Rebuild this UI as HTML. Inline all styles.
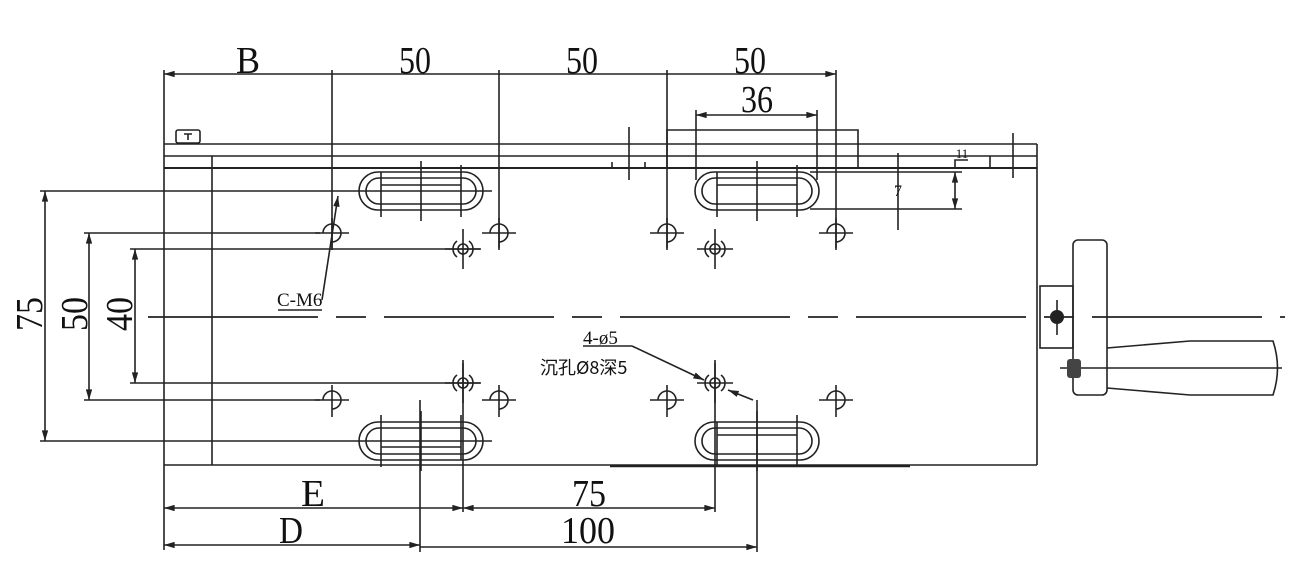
<!DOCTYPE html>
<html><head><meta charset="utf-8"><style>html,body{margin:0;padding:0;background:#fff;}svg{display:block}</style></head>
<body>
<svg width="1298" height="579" viewBox="0 0 1298 579" xmlns="http://www.w3.org/2000/svg">
<defs>
<marker id="a" viewBox="0 0 10 6" refX="10" refY="3" markerWidth="10" markerHeight="4" orient="auto-start-reverse"><path d="M0,0L10,3L0,6z" fill="#222"/></marker>
<g id="hole" stroke="#222" stroke-width="1.6" fill="none">
<path d="M-9,0 A9,9 0 1,1 0,9"/><line x1="-17" y1="0" x2="17" y2="0"/><line x1="0" y1="-15" x2="0" y2="17"/>
</g>
<g id="cb" stroke="#222" stroke-width="1.6" fill="none">
<circle r="5"/><path d="M-6,-8 A10,10 0 0,0 -6,8"/><path d="M6,-8 A10,10 0 0,1 6,8"/>
<line x1="-18" y1="0" x2="18" y2="0"/><line x1="0" y1="-20" x2="0" y2="20"/>
</g>
<g id="slot" stroke="#222" stroke-width="1.6" fill="none">
<rect x="-62" y="-19" width="124" height="38" rx="19"/>
<rect x="-55" y="-13" width="110" height="26" rx="13"/>
<line x1="-40" y1="-19" x2="-40" y2="26"/><line x1="40" y1="-26" x2="40" y2="26"/><line x1="0" y1="-30" x2="0" y2="30"/>
<line x1="-40" y1="-6" x2="40" y2="-6"/>
</g>
</defs>
<g stroke="#222" stroke-width="1.6" fill="none">
<!-- body -->
<line x1="164" y1="70" x2="164" y2="550"/>
<line x1="164" y1="144" x2="1037" y2="144"/>
<line x1="164" y1="156" x2="1037" y2="156"/>
<line x1="164" y1="168" x2="1037" y2="168" stroke-width="2"/>
<line x1="164" y1="465" x2="1037" y2="465"/>
<line x1="1037" y1="144" x2="1037" y2="465"/>
<line x1="212" y1="156" x2="212" y2="465"/>
<line x1="610" y1="466" x2="910" y2="466" stroke-width="2.5"/>
<rect x="176" y="130" width="24" height="13" rx="2"/>
<path d="M184,134 h8 M188,134 v6"/>
<!-- top dims -->
<line x1="164" y1="74" x2="836" y2="74" marker-start="url(#a)" marker-end="url(#a)"/>
<line x1="332" y1="70" x2="332" y2="248"/>
<line x1="499" y1="70" x2="499" y2="248"/>
<line x1="667" y1="70" x2="667" y2="248"/>
<line x1="836" y1="70" x2="836" y2="248"/>
<line x1="696" y1="115" x2="817" y2="115" marker-start="url(#a)" marker-end="url(#a)"/>
<line x1="696" y1="110" x2="696" y2="180"/>
<line x1="817" y1="110" x2="817" y2="180"/>
<path d="M667,168 V130 H858 V168"/>
<line x1="629" y1="127" x2="629" y2="180"/>
<line x1="1013" y1="133" x2="1013" y2="178"/>
<line x1="612" y1="162" x2="612" y2="168"/><line x1="645" y1="162" x2="645" y2="168"/>
<line x1="990" y1="156" x2="990" y2="168"/>
<path d="M955,168 V160 H968"/>
<!-- 7 dim -->
<line x1="810" y1="172" x2="962" y2="172"/>
<line x1="810" y1="209" x2="962" y2="209"/>
<line x1="955" y1="172" x2="955" y2="209" marker-start="url(#a)" marker-end="url(#a)"/>
<line x1="898" y1="153" x2="898" y2="230"/>
<!-- left dims -->
<line x1="40" y1="191" x2="492" y2="191"/>
<line x1="40" y1="441" x2="492" y2="441"/>
<line x1="45" y1="191" x2="45" y2="441" marker-start="url(#a)" marker-end="url(#a)"/>
<line x1="84" y1="233" x2="320" y2="233"/>
<line x1="84" y1="400" x2="320" y2="400"/>
<line x1="89" y1="233" x2="89" y2="400" marker-start="url(#a)" marker-end="url(#a)"/>
<line x1="130" y1="249" x2="480" y2="249"/>
<line x1="130" y1="383" x2="480" y2="383"/>
<line x1="135" y1="249" x2="135" y2="383" marker-start="url(#a)" marker-end="url(#a)"/>
<!-- centerline -->
<line x1="148" y1="317" x2="1285" y2="317" stroke-dasharray="170,18,30,18" stroke-width="1.8"/>
<!-- bottom dims -->
<line x1="420" y1="400" x2="420" y2="552"/>
<line x1="463" y1="360" x2="463" y2="512"/>
<line x1="715" y1="360" x2="715" y2="512"/>
<line x1="757" y1="400" x2="757" y2="552"/>
<line x1="164" y1="508" x2="463" y2="508" marker-start="url(#a)" marker-end="url(#a)"/>
<line x1="463" y1="508" x2="715" y2="508" marker-start="url(#a)" marker-end="url(#a)"/>
<line x1="164" y1="545" x2="420" y2="545" marker-start="url(#a)" marker-end="url(#a)"/>
<line x1="420" y1="547" x2="757" y2="547" marker-end="url(#a)"/>
<!-- leaders -->
<line x1="322" y1="300" x2="338" y2="196" marker-end="url(#a)"/>
<line x1="278" y1="310" x2="322" y2="310"/>
<line x1="583" y1="346" x2="632" y2="346"/>
<line x1="632" y1="346" x2="704" y2="380" marker-end="url(#a)"/>
<line x1="753" y1="400" x2="728" y2="390" marker-end="url(#a)"/>
<!-- handle -->
<rect x="1040" y="286" width="33" height="62"/>
<rect x="1073" y="240" width="34" height="155" rx="5"/>
<path d="M1107,348 L1190,341 H1273 Q1282,368 1273,395 H1190 L1107,388"/>
<line x1="1060" y1="368" x2="1282" y2="368"/>
<line x1="1057" y1="300" x2="1057" y2="335"/>
</g>
<circle cx="1057" cy="317" r="7" fill="#222"/>
<rect x="1067" y="359" width="14" height="19" rx="3" fill="#444"/>
<use href="#slot" x="421" y="191"/>
<use href="#slot" x="757" y="191"/>
<use href="#slot" x="421" y="441" transform="translate(842,882) scale(-1,-1)"/>
<use href="#slot" x="757" y="441"/>
<use href="#hole" x="332" y="233"/><use href="#hole" x="499" y="233"/><use href="#hole" x="667" y="233"/><use href="#hole" x="836" y="233"/>
<use href="#hole" x="332" y="400"/><use href="#hole" x="499" y="400"/><use href="#hole" x="667" y="400"/><use href="#hole" x="836" y="400"/>
<use href="#cb" x="463" y="249"/><use href="#cb" x="715" y="249"/><use href="#cb" x="463" y="383"/><use href="#cb" x="715" y="383"/>
<g font-family="Liberation Serif, serif" font-size="38" fill="#111" text-anchor="middle">
<text x="248" y="73" textLength="24" lengthAdjust="spacingAndGlyphs">B</text>
<text x="415" y="73" textLength="32" lengthAdjust="spacingAndGlyphs">50</text>
<text x="582" y="73" textLength="32" lengthAdjust="spacingAndGlyphs">50</text>
<text x="750" y="73" textLength="32" lengthAdjust="spacingAndGlyphs">50</text>
<text x="757" y="112" textLength="32" lengthAdjust="spacingAndGlyphs">36</text>
<text x="313" y="506" textLength="24" lengthAdjust="spacingAndGlyphs">E</text>
<text x="589" y="506" textLength="34" lengthAdjust="spacingAndGlyphs">75</text>
<text x="291" y="543" textLength="24" lengthAdjust="spacingAndGlyphs">D</text>
<text x="588" y="543" textLength="54" lengthAdjust="spacingAndGlyphs">100</text>
<text transform="translate(42,314) rotate(-90)" textLength="34" lengthAdjust="spacingAndGlyphs">75</text>
<text transform="translate(87,314) rotate(-90)" textLength="34" lengthAdjust="spacingAndGlyphs">50</text>
<text transform="translate(132,314) rotate(-90)" textLength="34" lengthAdjust="spacingAndGlyphs">40</text>
<text x="898" y="196" font-size="16">7</text>
<text x="962" y="158" font-size="13">11</text>
</g>
<g font-family="Liberation Serif, 'Noto Sans CJK SC', serif" font-size="19" fill="#111">
<text x="277" y="306">C-M6</text>
<text x="583" y="344">4-ø5</text>
<text x="540" y="374" font-family="'Noto Sans CJK SC', sans-serif" font-size="18">沉孔Ø8深5</text>
</g>
</svg>
</body></html>
